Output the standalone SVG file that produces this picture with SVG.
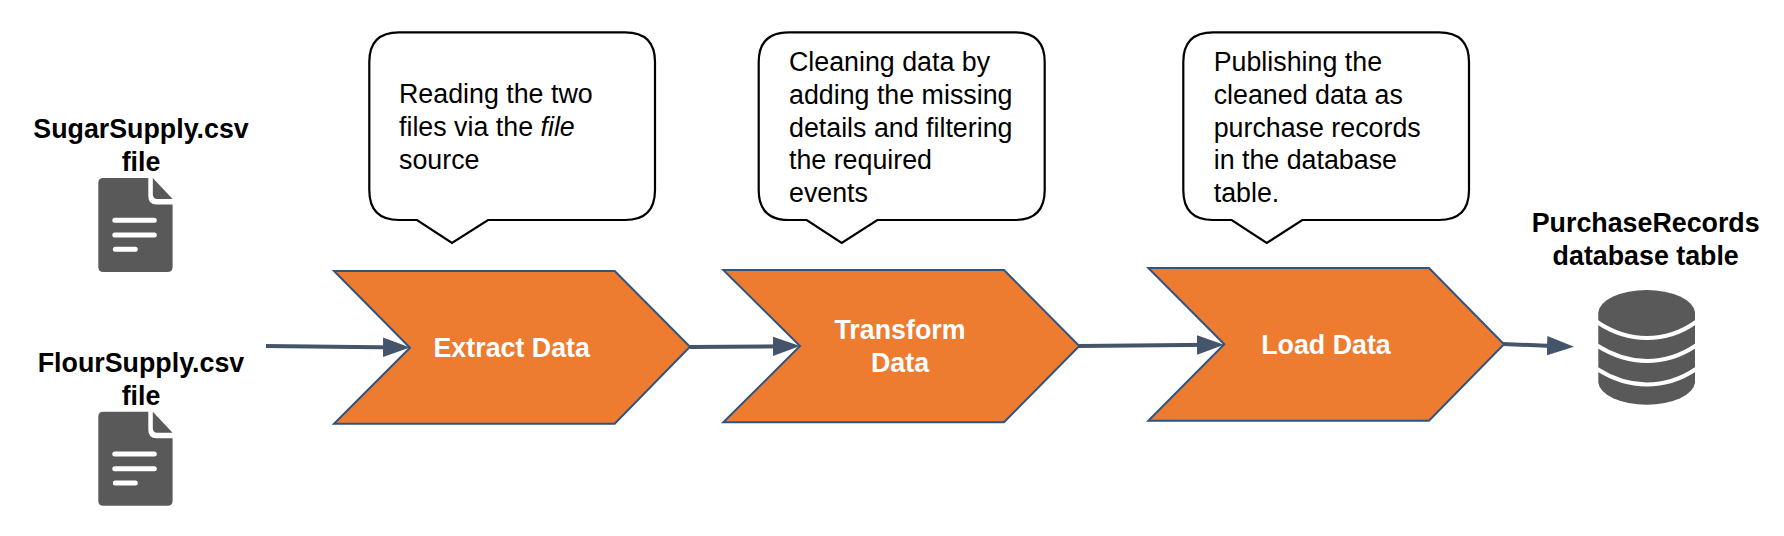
<svg xmlns="http://www.w3.org/2000/svg" width="1784" height="536" viewBox="0 0 1784 536">
<style>
text{font-family:"Liberation Sans",Arial,sans-serif}
.b{font-weight:700;font-size:26.8px;fill:#000;text-anchor:middle}
.w{font-weight:700;font-size:26.8px;fill:#fff;text-anchor:middle}
.t{font-size:26.8px;fill:#000}
.ch{fill:#ed7b30;stroke:#2f5480;stroke-width:2}
.co{fill:#fff;stroke:#000;stroke-width:2.2}
.ln{fill:none;stroke:#44546a;stroke-width:4}
.doc{fill:#595959}
.w2{fill:none;stroke:#fff;stroke-width:5;stroke-linecap:round}
.w3{fill:none;stroke:#fff;stroke-width:4}
</style>
<defs>
<marker id="ah" markerUnits="userSpaceOnUse" markerWidth="30" markerHeight="22" refX="17" refY="11" orient="auto"><path d="M0 1.300L27 11L0 20.700Z" fill="#44546a"/></marker>
<g id="file">
<path class="doc" d="M5 0H50V18Q50 26.500 58 26.500H74.300V89Q74.300 94 69.300 94H5Q0 94 0 89V5Q0 0 5 0Z"/>
<path class="doc" d="M54.500 0L74.300 21H59Q54.500 21 54.500 16Z"/>
<path class="w2" d="M16.500 42.300H56M16.500 57H56M17 71.300H37"/>
</g>
</defs>
<g id="connectors">
<path class="ln" marker-end="url(#ah)" d="M266 346L400 347.500"/>
<path class="ln" marker-end="url(#ah)" d="M690 347L790 346.200"/>
<path class="ln" marker-end="url(#ah)" d="M1079 346L1214 344.800"/>
<path class="ln" marker-end="url(#ah)" d="M1503 344L1564 346.400"/>
</g>
<g id="sugar"><text class="b" x="141" y="137.500">SugarSupply.csv</text><text class="b" x="141" y="171">file</text><use href="#file" x="98.300" y="178"/></g>
<g id="flour"><text class="b" x="141" y="372">FlourSupply.csv</text><text class="b" x="141" y="405">file</text><use href="#file" x="98.300" y="411.700"/></g>
<g id="extract"><path class="ch" d="M334 271H614.700L690 346.700L614.700 423.700H334L410 347.700Z"/><text class="w" x="511.700" y="357.300">Extract Data</text></g>
<g id="transform"><path class="ch" d="M723.300 270H1004L1079.300 346L1004 422.300H723.300L800 346Z"/><text class="w" x="900" y="339.300">Transform</text><text class="w" x="900" y="372.300">Data</text></g>
<g id="load"><path class="ch" d="M1148.300 268H1429L1504 344.300L1429 420.700H1148.300L1224.300 344.300Z"/><text class="w" x="1326" y="354.300">Load Data</text></g>
<g id="callout1"><path class="co" d="M399 32.300H625Q655 32.300 655 62V190Q655 220 625 220H488L452 243L417 220H399Q369.300 220 369.300 190V62Q369.300 32.300 399 32.300Z"/><text class="t" x="399" y="103">Reading the two</text><text class="t" x="399" y="136">files via the <tspan font-style="italic">file</tspan></text><text class="t" x="399" y="169">source</text></g>
<g id="callout2"><path class="co" d="M789 32.300H1015Q1044.700 32.300 1044.700 62V190Q1044.700 220 1015 220H877.300L841.700 243L806.700 220H789Q758.700 220 758.700 190V62Q758.700 32.300 789 32.300Z"/><text class="t" x="789" y="70.700">Cleaning data by</text><text class="t" x="789" y="103.700">adding the missing</text><text class="t" x="789" y="136.500">details and filtering</text><text class="t" x="789" y="169.300">the required</text><text class="t" x="789" y="202">events</text></g>
<g id="callout3"><path class="co" d="M1213 32.300H1439Q1469 32.300 1469 62V190Q1469 220 1439 220H1302.300L1266.700 243L1231.700 220H1213Q1183.300 220 1183.300 190V62Q1183.300 32.300 1213 32.300Z"/><text class="t" x="1213.700" y="70.700">Publishing the</text><text class="t" x="1213.700" y="103.700">cleaned data as</text><text class="t" x="1213.700" y="136.500">purchase records</text><text class="t" x="1213.700" y="169.300">in the database</text><text class="t" x="1213.700" y="202.300">table.</text></g>
<g id="records"><text class="b" x="1645.700" y="232.300">PurchaseRecords</text><text class="b" x="1645.700" y="265">database table</text>
<path class="doc" d="M1598.300 312.300A48.400 23.300 0 0 1 1695 312.300V382.400A48.400 23.300 0 0 1 1598.300 382.400Z"/>
<path class="w3" d="M1597 322C1612 332 1630 338 1646.700 338C1664 338 1682 332 1696 322"/>
<path class="w3" d="M1597 345.500C1612 355 1630 361 1646.700 361C1664 361 1682 355 1696 345.500"/>
<path class="w3" d="M1597 369C1612 378.500 1630 384.500 1646.700 384.500C1664 384.500 1682 378.500 1696 369"/>
</g>
</svg>
